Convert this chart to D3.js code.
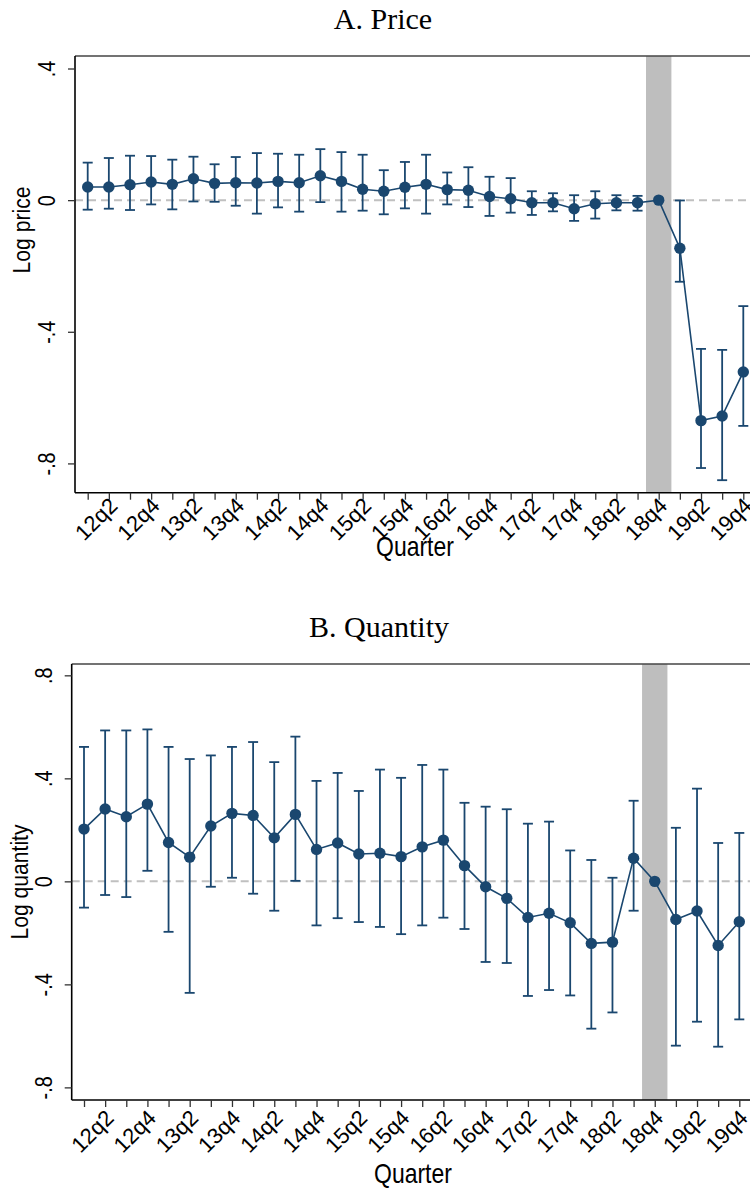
<!DOCTYPE html>
<html>
<head>
<meta charset="utf-8">
<script src="https://cdn.jsdelivr.net/npm/d3@7"></script>
<style>
  html, body { margin: 0; padding: 0; background: #fff; }
  svg { display: block; }
  .sans { font-family: "Liberation Sans", Arial, Helvetica, sans-serif; }
  .serif { font-family: "Liberation Serif", "Times New Roman", serif; }
</style>
</head>
<body>
<svg id="chart" width="750" height="1190"></svg>
<script>
// ---------------- DATA ----------------
const quarters = ["12q1","12q2","12q3","12q4","13q1","13q2","13q3","13q4",
                  "14q1","14q2","14q3","14q4","15q1","15q2","15q3","15q4",
                  "16q1","16q2","16q3","16q4","17q1","17q2","17q3","17q4",
                  "18q1","18q2","18q3","18q4","19q1","19q2","19q3","19q4"];
const tickLabels = ["12q2","12q4","13q2","13q4","14q2","14q4","15q2","15q4",
                    "16q2","16q4","17q2","17q4","18q2","18q4","19q2","19q4"];
const referenceQuarter = "18q4";

const priceEst = [0.040,0.040,0.047,0.055,0.048,0.065,0.051,0.053,0.052,0.057,0.053,0.074,0.057,0.033,0.027,0.039,
                  0.048,0.032,0.030,0.011,0.004,-0.008,-0.008,-0.026,-0.011,-0.008,-0.008,0,-0.146,-0.670,-0.656,-0.522];
const priceHi  = [0.114,0.128,0.135,0.134,0.123,0.132,0.109,0.131,0.143,0.141,0.138,0.155,0.146,0.138,0.091,0.116,
                  0.138,0.084,0.100,0.071,0.067,0.027,0.021,0.015,0.027,0.015,0.013,null,-0.001,-0.452,-0.455,-0.322];
const priceLo  = [-0.029,-0.026,-0.030,-0.013,-0.028,-0.004,-0.005,-0.017,-0.041,-0.022,-0.035,-0.006,-0.035,-0.032,-0.043,-0.025,
                  -0.041,-0.013,-0.021,-0.048,-0.038,-0.045,-0.034,-0.063,-0.056,-0.031,-0.032,null,-0.248,-0.814,-0.851,-0.686];

const qtyEst = [0.203,0.281,0.251,0.300,0.151,0.094,0.215,0.264,0.256,0.169,0.260,0.124,0.149,0.106,0.109,0.096,
                0.134,0.160,0.061,-0.021,-0.066,-0.140,-0.124,-0.161,-0.241,-0.236,0.090,0,-0.148,-0.115,-0.249,-0.157];
const qtyHi  = [0.522,0.586,0.586,0.590,0.522,0.475,0.489,0.522,0.541,0.463,0.562,0.390,0.421,0.351,0.434,0.402,
                0.452,0.434,0.305,0.290,0.280,0.224,0.232,0.120,0.083,0.014,0.313,null,0.208,0.360,0.149,0.188];
const qtyLo  = [-0.102,-0.053,-0.061,0.041,-0.196,-0.433,-0.021,0.014,-0.048,-0.114,0.002,-0.171,-0.143,-0.158,-0.177,-0.205,
                -0.171,-0.141,-0.185,-0.313,-0.317,-0.445,-0.422,-0.443,-0.572,-0.509,-0.114,null,-0.638,-0.545,-0.642,-0.536];

const priceTicks = [-0.8, -0.4, 0, 0.4];
const qtyTicks = [-0.8, -0.4, 0, 0.4, 0.8];

// ---------------- DRAW ----------------
const NAVY = "#1a476f";
const svg = d3.select("#chart");

function fmt(v) {
  if (v === 0) return "0";
  const s = Math.abs(v).toString().replace(/^0/, "");
  return (v < 0 ? "-" : "") + s;
}

function panel(cfg) {
  const g = svg.append("g");
  const x = d3.scalePoint().domain(quarters).range([cfg.x0, cfg.x1]);
  const step = x.step();
  const y = d3.scaleLinear().domain(cfg.yDomain).range([cfg.bottom, cfg.top]);

  // title
  g.append("text").attr("class", "serif")
    .attr("x", cfg.titleX).attr("y", cfg.titleY)
    .attr("text-anchor", "middle").attr("font-size", 30).attr("fill", "#000")
    .text(cfg.title);

  // shaded reference band
  const xr = x(referenceQuarter);
  g.append("rect")
    .attr("x", xr - step * 0.6).attr("width", step * 1.2)
    .attr("y", cfg.top).attr("height", cfg.bottom - cfg.top)
    .attr("fill", "#bebebe");

  // zero line
  g.append("line")
    .attr("x1", cfg.left).attr("x2", 760)
    .attr("y1", y(0)).attr("y2", y(0))
    .attr("stroke", "#c0c0c0").attr("stroke-width", 2)
    .attr("stroke-dasharray", "8,5");

  // top border
  g.append("line")
    .attr("x1", cfg.left).attr("x2", 760)
    .attr("y1", cfg.top).attr("y2", cfg.top)
    .attr("stroke", "#444").attr("stroke-width", 1.5);

  // error bars
  const rows = quarters.map((q, i) => ({q, est: cfg.est[i], hi: cfg.hi[i], lo: cfg.lo[i]}));
  const eb = g.append("g").attr("stroke", NAVY).attr("stroke-width", 1.8).attr("fill", "none");
  rows.filter(d => d.hi !== null && d.lo !== null).forEach(d => {
    const cx = x(d.q);
    eb.append("line").attr("x1", cx).attr("x2", cx).attr("y1", y(d.hi)).attr("y2", y(d.lo));
    eb.append("line").attr("x1", cx - 5).attr("x2", cx + 5).attr("y1", y(d.hi)).attr("y2", y(d.hi));
    eb.append("line").attr("x1", cx - 5).attr("x2", cx + 5).attr("y1", y(d.lo)).attr("y2", y(d.lo));
  });

  // connecting line
  g.append("path").datum(rows)
    .attr("fill", "none").attr("stroke", NAVY).attr("stroke-width", 1.6)
    .attr("d", d3.line().x(d => x(d.q)).y(d => y(d.est)));

  // markers
  g.append("g").selectAll("circle").data(rows).join("circle")
    .attr("cx", d => x(d.q)).attr("cy", d => y(d.est)).attr("r", 5.7)
    .attr("fill", NAVY);

  // y axis
  const yAxis = d3.axisLeft(y).tickValues(cfg.yTicks).tickSize(7).tickFormat("");
  const ya = g.append("g").attr("transform", `translate(${cfg.left},0)`).call(yAxis);
  ya.select(".domain").attr("d", `M0,${cfg.top}V${cfg.bottom}`).attr("stroke", "#000").attr("stroke-width", 1.6);
  ya.selectAll(".tick line").attr("stroke", "#333").attr("stroke-width", 1.3);
  ya.selectAll(".tick").append("text")
    .attr("class", "sans")
    .attr("transform", `translate(${-cfg.yLabOff},0) rotate(-90) scale(0.86,1)`)
    .attr("text-anchor", "middle").attr("dy", "0")
    .attr("fill", "#000").attr("font-size", 23)
    .text(d => fmt(d));

  // x axis
  const xAxis = d3.axisBottom(x).tickSize(7).tickFormat("");
  const xa = g.append("g").attr("transform", `translate(0,${cfg.bottom})`).call(xAxis);
  xa.select(".domain").attr("d", `M${cfg.left},0H760`).attr("stroke", "#000").attr("stroke-width", 1.6);
  xa.selectAll(".tick line").attr("stroke", "#333").attr("stroke-width", 1.3);
  xa.selectAll(".tick").filter(d => tickLabels.includes(d)).append("text")
    .attr("class", "sans")
    .attr("transform", `translate(4,${cfg.xLabOff}) rotate(-45)`)
    .attr("text-anchor", "end").attr("dy", "0.35em")
    .attr("fill", "#000").attr("font-size", 22)
    .text(d => d);

  // axis titles
  g.append("text").attr("class", "sans")
    .attr("transform", `translate(${cfg.yTitleX},${cfg.yTitleY}) rotate(-90) scale(0.88,1)`)
    .attr("text-anchor", "middle").attr("font-size", 24).attr("fill", "#000")
    .text(cfg.yTitle);
  g.append("text").attr("class", "sans")
    .attr("transform", `translate(${cfg.xTitleX},${cfg.xTitleY}) scale(0.82,1)`)
    .attr("text-anchor", "middle").attr("font-size", 28).attr("fill", "#000")
    .text("Quarter");
}

panel({
  title: "A. Price", titleX: 383, titleY: 29,
  left: 75, top: 56, bottom: 492.7,
  x0: 87.7, x1: 743.3,
  yDomain: [-0.889, 0.438], yTicks: priceTicks,
  est: priceEst, hi: priceHi, lo: priceLo,
  yLabOff: 20, yTitle: "Log price", yTitleX: 30, yTitleY: 230,
  xLabOff: 9, xTitleX: 415, xTitleY: 556
});

panel({
  title: "B. Quantity", titleX: 379, titleY: 637,
  left: 71.7, top: 664, bottom: 1100,
  x0: 84, x1: 739.3,
  yDomain: [-0.849, 0.844], yTicks: qtyTicks,
  est: qtyEst, hi: qtyHi, lo: qtyLo,
  yLabOff: 20, yTitle: "Log quantity", yTitleX: 28, yTitleY: 882,
  xLabOff: 14, xTitleX: 413, xTitleY: 1183
});
</script>
</body>
</html>
